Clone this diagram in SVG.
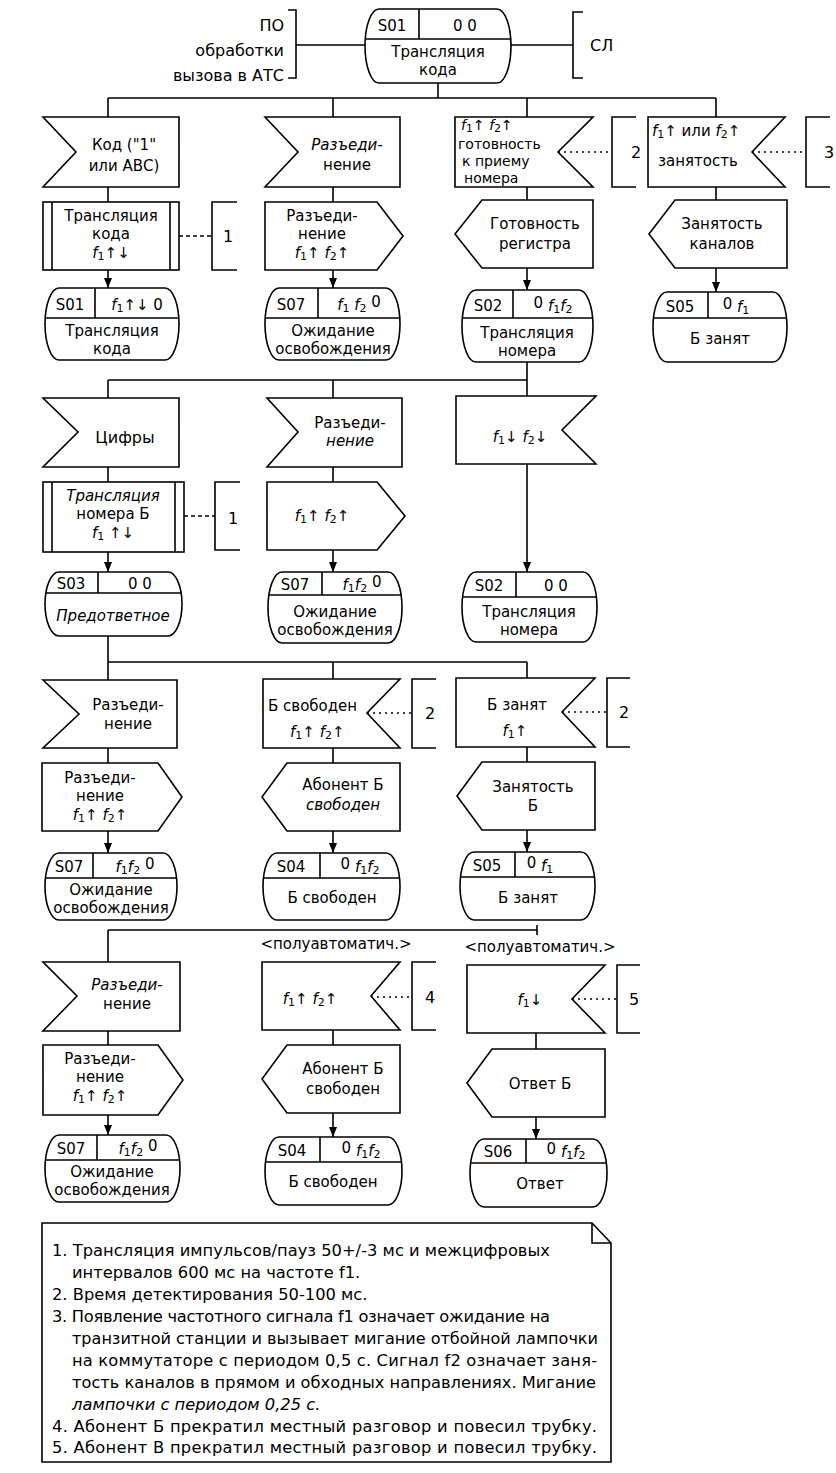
<svg xmlns="http://www.w3.org/2000/svg" width="836" height="1473" viewBox="0 0 836 1473">
<defs>
<style>
.ln{fill:none;stroke:#000;stroke-width:1.6}
.sh{fill:#fff;stroke:#000;stroke-width:1.6}
.dot{fill:none;stroke:#000;stroke-width:1.4;stroke-dasharray:2 4}
.dash{fill:none;stroke:#000;stroke-width:1.3;stroke-dasharray:4 3}
text{font-family:"DejaVu Sans","Liberation Sans",sans-serif;font-size:15px;fill:#000}
.c{text-anchor:middle}
.e{text-anchor:end}
.i{font-style:italic}
.s{font-size:11px}
.sm{font-size:14px}
.big{font-size:16px}
.nt{font-size:16.3px}
</style>
<marker id="ar" markerUnits="userSpaceOnUse" markerWidth="10" markerHeight="10" viewBox="0 0 10 10" refX="10" refY="5" orient="auto">
<path d="M0,1 L10,5 L0,9 Z" fill="#000"/>
</marker>
</defs>
<rect width="836" height="1473" fill="#fff"/>

<g id="connectors">
<path class="ln" d="M296,45 H365 M511,45 H573 M438,83 V98 M108,98 H716"/>
<path class="ln" d="M108,98 V117 M108,187 V202 M333,98 V117 M333,187 V202 M527,98 V117 M527,187 V200 M716,98 V117 M716,187 V200"/>
<path class="ln" marker-end="url(#ar)" d="M108,270 V288"/>
<path class="ln" marker-end="url(#ar)" d="M333,270 V288"/>
<path class="ln" marker-end="url(#ar)" d="M527,268 V290"/>
<path class="ln" marker-end="url(#ar)" d="M716,268 V292"/>
<path class="dash" d="M179,236 H212"/>
<path class="dot" d="M558,152 H612 M752,152 H806"/>
<path class="ln" d="M527,362 V396 M108,380 H527 M108,380 V398 M333,380 V398 M108,467 V482 M333,467 V482"/>
<path class="ln" marker-end="url(#ar)" d="M108,552 V572"/>
<path class="ln" marker-end="url(#ar)" d="M333,550 V572"/>
<path class="ln" marker-end="url(#ar)" d="M527,464 V572"/>
<path class="dash" d="M184,516 H215"/>
<path class="ln" d="M108,636 V680 M108,662 H527 M527,662 V678 M333,662 V679 M108,748 V763 M333,748 V763 M527,747 V762"/>
<path class="ln" marker-end="url(#ar)" d="M108,831 V853"/>
<path class="ln" marker-end="url(#ar)" d="M333,831 V853"/>
<path class="ln" marker-end="url(#ar)" d="M527,830 V852"/>
<path class="dot" d="M367,713 H412 M562,712 H607"/>
<path class="ln" d="M108,930 H537 M537,925 V935 M108,930 V962 M108,1031 V1045 M333,1030 V1045 M536,1033 V1049"/>
<path class="ln" marker-end="url(#ar)" d="M108,1115 V1135"/>
<path class="ln" marker-end="url(#ar)" d="M333,1113 V1137"/>
<path class="ln" marker-end="url(#ar)" d="M536,1117 V1139"/>
<path class="dot" d="M371,997 H412 M572,999 H617"/>
</g>

<!-- top -->
<g id="n-po">
<path class="ln" d="M288,10 H296 V78 H288"/>
<text class="e big" x="284" y="31">ПО</text>
<text class="e big" x="284" y="56">обработки</text>
<text class="e big" x="284" y="81">вызова в АТС</text>
</g>
<g id="n-sl">
<path class="ln" d="M583,12 H573 V78 H583"/>
<text class="big" x="590" y="51">СЛ</text>
</g>
<g id="n-s01-top">
<path class="sh" d="M379,9 H497 A14 37 0 0 1 497,83 H379 A14 37 0 0 1 379,9 Z"/>
<path class="ln" d="M366,39 H510 M419,9 V39"/>
<text class="c" x="392" y="31">S01</text>
<text class="c" x="465" y="31">0 0</text>
<text class="c" x="438" y="57">Трансляция</text>
<text class="c" x="438" y="75">кода</text>
</g>

<!-- row 1 -->
<g id="n-r1-kod">
<polygon class="sh" points="43,117 179,117 179,187 43,187 76,152"/>
<text class="c" x="124" y="150">Код ("1"</text>
<text class="c" x="124" y="171">или АВС)</text>
</g>
<g id="n-r1-disc">
<polygon class="sh" points="265,117 400,117 400,187 265,187 298,152"/>
<text class="c i" x="347" y="150">Разъеди-</text>
<text class="c" x="347" y="170">нение</text>
</g>
<g id="n-r1-ready">
<polygon class="sh" points="455,117 593,117 558,152 593,187 455,187"/>
<text class="sm" x="461" y="130"><tspan class="i">f</tspan><tspan class="s" dy="2">1</tspan><tspan dy="-2">↑ </tspan><tspan class="i">f</tspan><tspan class="s" dy="2">2</tspan><tspan dy="-2">↑</tspan></text>
<text class="sm" x="458" y="149">готовность</text>
<text class="sm" x="462" y="166">к приему</text>
<text class="sm" x="464" y="183">номера</text>
</g>
<g id="n-r1-busy">
<polygon class="sh" points="648,117 785,117 752,152 785,187 648,187"/>
<text x="652" y="136"><tspan class="i">f</tspan><tspan class="s" dy="2">1</tspan><tspan dy="-2">↑ или </tspan><tspan class="i">f</tspan><tspan class="s" dy="2">2</tspan><tspan dy="-2">↑</tspan></text>
<text x="658" y="166">занятость</text>
</g>
<g id="n-r1-task">
<rect class="sh" x="43" y="202" width="136" height="68"/>
<path class="ln" d="M52,202 V270 M170,202 V270"/>
<text class="c" x="111" y="221">Трансляция</text>
<text class="c" x="111" y="239">кода</text>
<text class="c" x="111" y="258"><tspan class="i">f</tspan><tspan class="s" dy="2">1</tspan><tspan dy="-2">↑↓</tspan></text>
</g>
<g id="n-c1a">
<path class="ln" d="M237,202 H212 V270 H237"/>
<text class="big" x="223" y="242">1</text>
</g>
<g id="n-r1-out-disc">
<polygon class="sh" points="265,202 377,202 403,236 377,270 265,270"/>
<text class="c" x="322" y="221">Разъеди-</text>
<text class="c" x="322" y="239">нение</text>
<text class="c" x="322" y="258"><tspan class="i">f</tspan><tspan class="s" dy="2">1</tspan><tspan dy="-2">↑ </tspan><tspan class="i">f</tspan><tspan class="s" dy="2">2</tspan><tspan dy="-2">↑</tspan></text>
</g>
<g id="n-r1-out-reg">
<polygon class="sh" points="482,200 593,200 593,268 482,268 455,234"/>
<text class="c" x="535" y="229">Готовность</text>
<text class="c" x="535" y="249">регистра</text>
</g>
<g id="n-c2a">
<path class="ln" d="M636,117 H612 V187 H636"/>
<text class="big" x="631" y="158">2</text>
</g>
<g id="n-r1-out-chan">
<polygon class="sh" points="675,200 787,200 787,268 675,268 649,234"/>
<text class="c" x="722" y="229">Занятость</text>
<text class="c" x="722" y="249">каналов</text>
</g>
<g id="n-c3">
<path class="ln" d="M830,117 H806 V187 H830"/>
<text class="big" x="824" y="158">3</text>
</g>
<g id="n-r1-s01">
<path class="sh" d="M59,288 H165 A14 36 0 0 1 165,360 H59 A14 36 0 0 1 59,288 Z"/>
<path class="ln" d="M45,318 H179 M95,288 V318"/>
<text class="c" x="70" y="310">S01</text>
<text class="c" x="137" y="310"><tspan class="i">f</tspan><tspan class="s" dy="2">1</tspan><tspan dy="-2">↑↓ 0</tspan></text>
<text class="c" x="112" y="336">Трансляция</text>
<text class="c" x="112" y="354">кода</text>
</g>
<g id="n-r1-s07">
<path class="sh" d="M279,288 H386 A14 36 0 0 1 386,360 H279 A14 36 0 0 1 279,288 Z"/>
<path class="ln" d="M265,318 H400 M318,288 V318"/>
<text class="c" x="291" y="310">S07</text>
<text class="c" x="359" y="310"><tspan class="i">f</tspan><tspan class="s" dy="2">1</tspan><tspan dy="-2"> </tspan><tspan class="i">f</tspan><tspan class="s" dy="2">2</tspan><tspan dy="-5">  0</tspan></text>
<text class="c" x="333" y="336">Ожидание</text>
<text class="c" x="333" y="354">освобождения</text>
</g>
<g id="n-r1-s02">
<path class="sh" d="M476,290 H579 A14 36 0 0 1 579,362 H476 A14 36 0 0 1 476,290 Z"/>
<path class="ln" d="M462,318 H593 M513,290 V318"/>
<text class="c" x="488" y="311">S02</text>
<text class="c" x="553" y="311"><tspan dy="-3">0 </tspan><tspan class="i" dy="3">f</tspan><tspan class="s" dy="2">1</tspan><tspan class="i" dy="-2">f</tspan><tspan class="s" dy="2">2</tspan></text>
<text class="c" x="527" y="338">Трансляция</text>
<text class="c" x="527" y="356">номера</text>
</g>
<g id="n-r1-s05">
<path class="sh" d="M667,292 H773 A14 35 0 0 1 773,362 H667 A14 35 0 0 1 667,292 Z"/>
<path class="ln" d="M653,318 H787 M708,292 V318"/>
<text class="c" x="680" y="312">S05</text>
<text class="c" x="736" y="312"><tspan dy="-3">0 </tspan><tspan class="i" dy="3">f</tspan><tspan class="s" dy="2">1</tspan></text>
<text class="c" x="720" y="344">Б занят</text>
</g>

<!-- row 2 -->
<g id="n-r2-digits">
<polygon class="sh" points="43,398 179,398 179,467 43,467 78,432"/>
<text class="c big" x="125" y="443">Цифры</text>
</g>
<g id="n-r2-disc">
<polygon class="sh" points="267,398 402,398 402,467 267,467 298,432"/>
<text class="c" x="350" y="428">Разъеди-</text>
<text class="c i" x="350" y="446">нение</text>
</g>
<g id="n-r2-f">
<polygon class="sh" points="456,396 596,396 562,430 596,464 456,464"/>
<text class="c" x="520" y="442"><tspan class="i">f</tspan><tspan class="s" dy="2">1</tspan><tspan dy="-2">↓ </tspan><tspan class="i">f</tspan><tspan class="s" dy="2">2</tspan><tspan dy="-2">↓</tspan></text>
</g>
<g id="n-r2-task">
<rect class="sh" x="43" y="482" width="141" height="70"/>
<path class="ln" d="M52,482 V552 M175,482 V552"/>
<text class="c i" x="113" y="501">Трансляция</text>
<text class="c" x="113" y="519">номера Б</text>
<text class="c" x="113" y="538"><tspan class="i">f</tspan><tspan class="s" dy="2">1</tspan><tspan dy="-2">  ↑↓</tspan></text>
</g>
<g id="n-c1b">
<path class="ln" d="M240,482 H215 V550 H240"/>
<text class="big" x="228" y="524">1</text>
</g>
<g id="n-r2-out">
<polygon class="sh" points="267,482 377,482 405,516 377,550 267,550"/>
<text class="c" x="322" y="521"><tspan class="i">f</tspan><tspan class="s" dy="2">1</tspan><tspan dy="-2">↑ </tspan><tspan class="i">f</tspan><tspan class="s" dy="2">2</tspan><tspan dy="-2">↑</tspan></text>
</g>
<g id="n-r2-s03">
<path class="sh" d="M59,572 H168 A14 32 0 0 1 168,636 H59 A14 32 0 0 1 59,572 Z"/>
<path class="ln" d="M46,593 H181 M98,572 V593"/>
<text class="c" x="71" y="589">S03</text>
<text class="c" x="140" y="589">0 0</text>
<text class="c i" x="113" y="621">Предответное</text>
</g>
<g id="n-r2-s07">
<path class="sh" d="M282,572 H388 A14 35.5 0 0 1 388,643 H282 A14 35.5 0 0 1 282,572 Z"/>
<path class="ln" d="M269,595 H401 M322,572 V595"/>
<text class="c" x="295" y="590">S07</text>
<text class="c" x="362" y="590"><tspan class="i">f</tspan><tspan class="s" dy="2">1</tspan><tspan class="i" dy="-2">f</tspan><tspan class="s" dy="2">2</tspan><tspan dy="-5">  0</tspan></text>
<text class="c" x="335" y="617">Ожидание</text>
<text class="c" x="335" y="635">освобождения</text>
</g>
<g id="n-r2-s02">
<path class="sh" d="M476,572 H583 A14 35 0 0 1 583,642 H476 A14 35 0 0 1 476,572 Z"/>
<path class="ln" d="M462,597 H597 M516,572 V597"/>
<text class="c" x="489" y="591">S02</text>
<text class="c" x="556" y="591">0 0</text>
<text class="c" x="529" y="617">Трансляция</text>
<text class="c" x="529" y="635">номера</text>
</g>

<!-- row 3 -->
<g id="n-r3-disc">
<polygon class="sh" points="43,680 177,680 177,748 43,748 79,714"/>
<text class="c" x="128" y="710">Разъеди-</text>
<text class="c" x="128" y="729">нение</text>
</g>
<g id="n-r3-bfree">
<polygon class="sh" points="263,679 400,679 367,713 400,748 263,748"/>
<text x="268" y="711">Б свободен</text>
<text x="290" y="737"><tspan class="i">f</tspan><tspan class="s" dy="2">1</tspan><tspan dy="-2">↑ </tspan><tspan class="i">f</tspan><tspan class="s" dy="2">2</tspan><tspan dy="-2">↑</tspan></text>
</g>
<g id="n-c2b">
<path class="ln" d="M436,679 H412 V748 H436"/>
<text class="big" x="425" y="719">2</text>
</g>
<g id="n-r3-bbusy">
<polygon class="sh" points="456,678 595,678 562,712 595,747 456,747"/>
<text class="c" x="517" y="710">Б занят</text>
<text class="c" x="515" y="736"><tspan class="i">f</tspan><tspan class="s" dy="2">1</tspan><tspan dy="-2">↑</tspan></text>
</g>
<g id="n-c2c">
<path class="ln" d="M630,678 H607 V747 H630"/>
<text class="big" x="619" y="718">2</text>
</g>
<g id="n-r3-out-disc">
<polygon class="sh" points="42,763 158,763 182,797 158,831 42,831"/>
<text class="c" x="100" y="783">Разъеди-</text>
<text class="c" x="100" y="801">нение</text>
<text class="c" x="100" y="820"><tspan class="i">f</tspan><tspan class="s" dy="2">1</tspan><tspan dy="-2">↑ </tspan><tspan class="i">f</tspan><tspan class="s" dy="2">2</tspan><tspan dy="-2">↑</tspan></text>
</g>
<g id="n-r3-out-free">
<polygon class="sh" points="287,763 400,763 400,831 287,831 262,797"/>
<text class="c" x="343" y="790">Абонент Б</text>
<text class="c i" x="343" y="810">свободен</text>
</g>
<g id="n-r3-out-busy">
<polygon class="sh" points="482,762 595,762 595,830 482,830 457,796"/>
<text class="c" x="533" y="792">Занятость</text>
<text class="c" x="533" y="811">Б</text>
</g>
<g id="n-r3-s07">
<path class="sh" d="M59,853 H163 A14 33.5 0 0 1 163,920 H59 A14 33.5 0 0 1 59,853 Z"/>
<path class="ln" d="M45,878 H177 M93,853 V878"/>
<text class="c" x="69" y="872">S07</text>
<text class="c" x="135" y="872"><tspan class="i">f</tspan><tspan class="s" dy="2">1</tspan><tspan class="i" dy="-2">f</tspan><tspan class="s" dy="2">2</tspan><tspan dy="-5">  0</tspan></text>
<text class="c" x="111" y="895">Ожидание</text>
<text class="c" x="111" y="913">освобождения</text>
</g>
<g id="n-r3-s04">
<path class="sh" d="M277,853 H386 A14 33.5 0 0 1 386,920 H277 A14 33.5 0 0 1 277,853 Z"/>
<path class="ln" d="M263,878 H400 M320,853 V878"/>
<text class="c" x="291" y="872">S04</text>
<text class="c" x="360" y="872"><tspan dy="-3">0 </tspan><tspan class="i" dy="3">f</tspan><tspan class="s" dy="2">1</tspan><tspan class="i" dy="-2">f</tspan><tspan class="s" dy="2">2</tspan></text>
<text class="c" x="332" y="903">Б свободен</text>
</g>
<g id="n-r3-s05">
<path class="sh" d="M474,852 H581 A14 34 0 0 1 581,920 H474 A14 34 0 0 1 474,852 Z"/>
<path class="ln" d="M460,877 H595 M515,852 V877"/>
<text class="c" x="487" y="871">S05</text>
<text class="c" x="540" y="871"><tspan dy="-3">0 </tspan><tspan class="i" dy="3">f</tspan><tspan class="s" dy="2">1</tspan></text>
<text class="c" x="528" y="903">Б занят</text>
</g>

<!-- row 4 -->
<g id="n-r4-disc">
<polygon class="sh" points="43,962 180,962 180,1031 43,1031 77,996"/>
<text class="c i" x="127" y="990">Разъеди-</text>
<text class="c" x="127" y="1009">нение</text>
</g>
<g id="n-r4-semi1">
<text class="c" x="336" y="949">&lt;полуавтоматич.&gt;</text>
<polygon class="sh" points="262,962 400,962 371,996 400,1030 262,1030"/>
<text class="c" x="310" y="1004"><tspan class="i">f</tspan><tspan class="s" dy="2">1</tspan><tspan dy="-2">↑ </tspan><tspan class="i">f</tspan><tspan class="s" dy="2">2</tspan><tspan dy="-2">↑</tspan></text>
</g>
<g id="n-c4">
<path class="ln" d="M436,962 H412 V1030 H436"/>
<text class="big" x="425" y="1003">4</text>
</g>
<g id="n-r4-semi2">
<text class="c" x="540" y="952">&lt;полуавтоматич.&gt;</text>
<polygon class="sh" points="467,965 605,965 572,999 605,1033 467,1033"/>
<text class="c" x="530" y="1005"><tspan class="i">f</tspan><tspan class="s" dy="2">1</tspan><tspan dy="-2">↓</tspan></text>
</g>
<g id="n-c5">
<path class="ln" d="M640,965 H617 V1033 H640"/>
<text class="big" x="629" y="1005">5</text>
</g>
<g id="n-r4-out-disc">
<polygon class="sh" points="43,1045 158,1045 183,1080 158,1115 43,1115"/>
<text class="c" x="100" y="1064">Разъеди-</text>
<text class="c" x="100" y="1082">нение</text>
<text class="c" x="100" y="1101"><tspan class="i">f</tspan><tspan class="s" dy="2">1</tspan><tspan dy="-2">↑ </tspan><tspan class="i">f</tspan><tspan class="s" dy="2">2</tspan><tspan dy="-2">↑</tspan></text>
</g>
<g id="n-r4-out-free">
<polygon class="sh" points="287,1045 400,1045 400,1113 287,1113 262,1079"/>
<text class="c" x="343" y="1074">Абонент Б</text>
<text class="c" x="343" y="1094">свободен</text>
</g>
<g id="n-r4-out-ans">
<polygon class="sh" points="492,1049 605,1049 605,1117 492,1117 467,1083"/>
<text class="c" x="540" y="1089">Ответ Б</text>
</g>
<g id="n-r4-s07">
<path class="sh" d="M59,1135 H166 A14 33.5 0 0 1 166,1202 H59 A14 33.5 0 0 1 59,1135 Z"/>
<path class="ln" d="M45,1160 H180 M97,1135 V1160"/>
<text class="c" x="71" y="1154">S07</text>
<text class="c" x="138" y="1154"><tspan class="i">f</tspan><tspan class="s" dy="2">1</tspan><tspan class="i" dy="-2">f</tspan><tspan class="s" dy="2">2</tspan><tspan dy="-5">  0</tspan></text>
<text class="c" x="112" y="1177">Ожидание</text>
<text class="c" x="112" y="1195">освобождения</text>
</g>
<g id="n-r4-s04">
<path class="sh" d="M279,1137 H388 A14 34 0 0 1 388,1205 H279 A14 34 0 0 1 279,1137 Z"/>
<path class="ln" d="M265,1162 H402 M320,1137 V1162"/>
<text class="c" x="292" y="1156">S04</text>
<text class="c" x="361" y="1156"><tspan dy="-3">0 </tspan><tspan class="i" dy="3">f</tspan><tspan class="s" dy="2">1</tspan><tspan class="i" dy="-2">f</tspan><tspan class="s" dy="2">2</tspan></text>
<text class="c" x="333" y="1187">Б свободен</text>
</g>
<g id="n-r4-s06">
<path class="sh" d="M484,1139 H593 A14 34 0 0 1 593,1207 H484 A14 34 0 0 1 484,1139 Z"/>
<path class="ln" d="M470,1163 H607 M526,1139 V1163"/>
<text class="c" x="498" y="1157">S06</text>
<text class="c" x="566" y="1157"><tspan dy="-3">0 </tspan><tspan class="i" dy="3">f</tspan><tspan class="s" dy="2">1</tspan><tspan class="i" dy="-2">f</tspan><tspan class="s" dy="2">2</tspan></text>
<text class="c" x="540" y="1189">Ответ</text>
</g>

<!-- notes -->
<g id="n-notes">
<path class="sh" d="M42,1223 H592 L611,1243 V1462 H42 Z"/>
<path class="ln" d="M592,1223 V1243 H611"/>
<text class="nt" x="52" y="1256" textLength="498" lengthAdjust="spacing">1. Трансляция импульсов/пауз 50+/-3 мс и межцифровых</text>
<text class="nt" x="72" y="1278">интервалов 600 мс на частоте f1.</text>
<text class="nt" x="52" y="1300">2. Время детектирования 50-100 мс.</text>
<text class="nt" x="52" y="1322" textLength="498" lengthAdjust="spacing">3. Появление частотного сигнала f1 означает ожидание на</text>
<text class="nt" x="72" y="1344" textLength="526" lengthAdjust="spacingAndGlyphs">транзитной станции и вызывает мигание отбойной лампочки</text>
<text class="nt" x="72" y="1366" textLength="525" lengthAdjust="spacing">на коммутаторе с периодом 0,5 с. Сигнал f2 означает заня-</text>
<text class="nt" x="72" y="1388" textLength="524" lengthAdjust="spacingAndGlyphs">тость каналов в прямом и обходных направлениях. Мигание</text>
<text class="nt i" x="72" y="1410">лампочки с периодом 0,25 с.</text>
<text class="nt" x="52" y="1432" textLength="545" lengthAdjust="spacing">4. Абонент Б прекратил местный разговор и повесил трубку.</text>
<text class="nt" x="52" y="1453" textLength="545" lengthAdjust="spacing">5. Абонент В прекратил местный разговор и повесил трубку.</text>
</g>
</svg>
